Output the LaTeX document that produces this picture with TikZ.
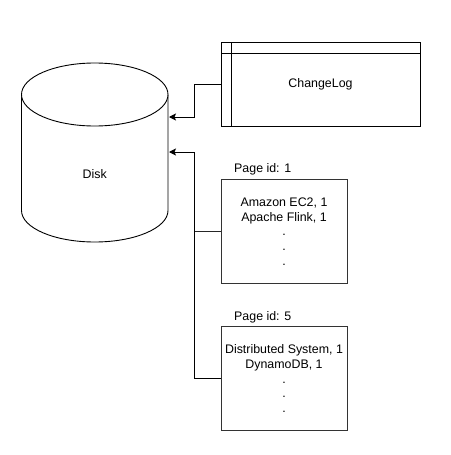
\documentclass[tikz,border=0pt]{standalone}
\usepackage{fontspec}
\setmainfont{Liberation Sans}
\usetikzlibrary{arrows.meta}
\begin{document}
\begin{tikzpicture}[x=1pt,y=-1pt,
  every node/.style={font=\fontsize{12.4}{15}\selectfont, inner sep=0pt},
  boxst/.style={draw=black!80, line width=0.9pt, fill=white, minimum width=126pt, minimum height=104pt},
  arrowst/.style={draw=black, line width=0.9pt, -{Stealth[length=7pt,width=7pt,inset=1.5pt]}},
  linkst/.style={draw=black!85, line width=0.9pt}]
\useasboundingbox (0,0) rectangle (450,455);
% Disk cylinder
\draw[line width=0.9pt, fill=white] (21.5,94.5) -- (21.5,210.5) arc[start angle=180, end angle=360, x radius=73.25pt, y radius=31.5pt] -- (168,94.5);
\draw[line width=0.9pt, fill=white] (94.75,94.5) ellipse [x radius=73.25pt, y radius=31.5pt];
\node (disk) at (94.75,174) {Disk};
\coordinate (dA) at (169,117);
\coordinate (dB) at (169,152);
% ChangeLog
\node[draw=black, line width=0.9pt, minimum width=199pt, minimum height=84pt] (cl) at (320.5,84) {};
\draw[line width=0.9pt] (231,42) -- (231,126);
\draw[line width=0.9pt] (221,53.5) -- (420,53.5);
\node (cltext) at (320.5,84) {ChangeLog};
% Pages
\node[boxst] (p1) at (284,231) {};
\node[boxst] (p2) at (284,378) {};
\node[anchor=base west] (l1) at (234,172) {Page id: 1};
\node[anchor=base west] (l5) at (234,320) {Page id: 5};
\node[anchor=base] (a1) at (284,206) {Amazon EC2, 1};
\node[anchor=base] (a2) at (284,221) {Apache Flink, 1};
\node[anchor=base] (a3) at (284,235.5) {.};
\node[anchor=base] (a4) at (284,250.5) {.};
\node[anchor=base] (a5) at (284,265.5) {.};
\node[anchor=base] (b1) at (284,353) {Distributed System, 1};
\node[anchor=base] (b2) at (284,368) {DynamoDB, 1};
\node[anchor=base] (b3) at (284,383.5) {.};
\node[anchor=base] (b4) at (284,397.5) {.};
\node[anchor=base] (b5) at (284,412.5) {.};
% connectors
\draw[arrowst] (cl.west) -- ++(-26,0) |- (dA);
\draw[arrowst] (p2.west) -- ++(-26,0) |- (dB);
\draw[linkst] (p1.west) -- ++(-26,0);
\end{tikzpicture}
\end{document}
